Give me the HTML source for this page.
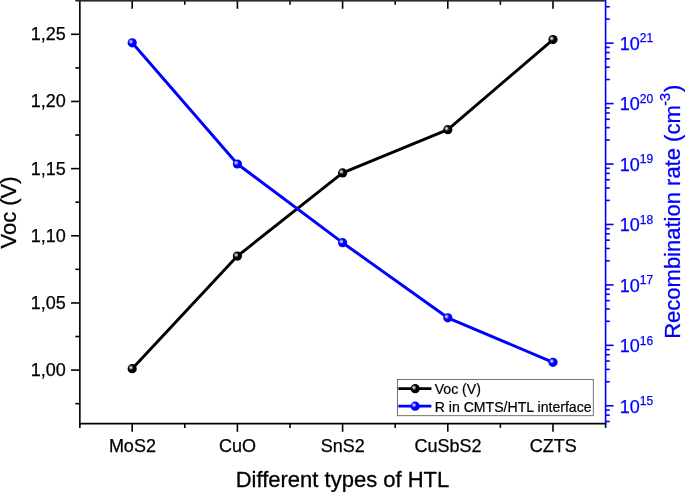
<!DOCTYPE html>
<html lang="en"><head><meta charset="utf-8"><title>Voc and recombination rate for different HTL</title>
<style>html,body{margin:0;padding:0;background:#fff}svg{display:block}</style></head>
<body>
<svg width="685" height="492" viewBox="0 0 685 492" font-family="'Liberation Sans', Arial, sans-serif">
<defs>
<radialGradient id="gk" cx="0.37" cy="0.38" r="0.62" fx="0.36" fy="0.37"><stop offset="0" stop-color="#f4f4f4"/><stop offset="0.2" stop-color="#9a9a9a"/><stop offset="0.45" stop-color="#000"/><stop offset="1" stop-color="#000"/></radialGradient>
<radialGradient id="gb" cx="0.37" cy="0.38" r="0.62" fx="0.36" fy="0.37"><stop offset="0" stop-color="#f0f0ff"/><stop offset="0.2" stop-color="#9090ff"/><stop offset="0.45" stop-color="#0000ff"/><stop offset="1" stop-color="#0000ff"/></radialGradient>
</defs>
<rect width="685" height="492" fill="#fff"/>
<g stroke="#000" stroke-width="1.6" fill="none" stroke-linecap="butt">
<line x1="79.85" y1="0" x2="79.85" y2="424.40000000000003"/>
<line x1="79.05" y1="423.6" x2="606.4" y2="423.6"/>
<line x1="132.2" y1="423.6" x2="132.2" y2="431.8"/>
<line x1="132.2" y1="0" x2="132.2" y2="8.8"/>
<line x1="237.4" y1="423.6" x2="237.4" y2="431.8"/>
<line x1="237.4" y1="0" x2="237.4" y2="8.8"/>
<line x1="342.6" y1="423.6" x2="342.6" y2="431.8"/>
<line x1="342.6" y1="0" x2="342.6" y2="8.8"/>
<line x1="447.8" y1="423.6" x2="447.8" y2="431.8"/>
<line x1="447.8" y1="0" x2="447.8" y2="8.8"/>
<line x1="553.0" y1="423.6" x2="553.0" y2="431.8"/>
<line x1="553.0" y1="0" x2="553.0" y2="8.8"/>
<line x1="79.85" y1="423.6" x2="79.85" y2="427.90000000000003"/>
<line x1="184.8" y1="423.6" x2="184.8" y2="427.90000000000003"/>
<line x1="184.8" y1="0" x2="184.8" y2="4.8"/>
<line x1="290.0" y1="423.6" x2="290.0" y2="427.90000000000003"/>
<line x1="290.0" y1="0" x2="290.0" y2="4.8"/>
<line x1="395.2" y1="423.6" x2="395.2" y2="427.90000000000003"/>
<line x1="395.2" y1="0" x2="395.2" y2="4.8"/>
<line x1="500.4" y1="423.6" x2="500.4" y2="427.90000000000003"/>
<line x1="500.4" y1="0" x2="500.4" y2="4.8"/>
<line x1="605.6" y1="423.6" x2="605.6" y2="427.90000000000003"/>
<line x1="71.05" y1="34.30" x2="79.85" y2="34.30"/>
<line x1="71.05" y1="101.46" x2="79.85" y2="101.46"/>
<line x1="71.05" y1="168.62" x2="79.85" y2="168.62"/>
<line x1="71.05" y1="235.78" x2="79.85" y2="235.78"/>
<line x1="71.05" y1="302.94" x2="79.85" y2="302.94"/>
<line x1="71.05" y1="370.10" x2="79.85" y2="370.10"/>
<line x1="75.35" y1="67.88" x2="79.85" y2="67.88"/>
<line x1="75.35" y1="135.04" x2="79.85" y2="135.04"/>
<line x1="75.35" y1="202.20" x2="79.85" y2="202.20"/>
<line x1="75.35" y1="269.36" x2="79.85" y2="269.36"/>
<line x1="75.35" y1="336.52" x2="79.85" y2="336.52"/>
<line x1="75.35" y1="403.68" x2="79.85" y2="403.68"/>
</g>
<rect x="75.35" y="0" width="529.45" height="1.6" fill="#2a2a2a"/>
<g stroke="#0000ff" stroke-width="1.6" fill="none">
<line x1="605.6" y1="0" x2="605.6" y2="423.6"/>
<line x1="605.6" y1="43.15" x2="613.6" y2="43.15"/>
<line x1="605.6" y1="103.59" x2="613.6" y2="103.59"/>
<line x1="605.6" y1="164.03" x2="613.6" y2="164.03"/>
<line x1="605.6" y1="224.47" x2="613.6" y2="224.47"/>
<line x1="605.6" y1="284.91" x2="613.6" y2="284.91"/>
<line x1="605.6" y1="345.35" x2="613.6" y2="345.35"/>
<line x1="605.6" y1="405.79" x2="613.6" y2="405.79"/>
<line x1="605.6" y1="19.10" x2="609.8000000000001" y2="19.10"/>
<line x1="605.6" y1="6.76" x2="609.8000000000001" y2="6.76"/>
<line x1="605.6" y1="79.54" x2="609.8000000000001" y2="79.54"/>
<line x1="605.6" y1="67.20" x2="609.8000000000001" y2="67.20"/>
<line x1="605.6" y1="58.84" x2="609.8000000000001" y2="58.84"/>
<line x1="605.6" y1="52.51" x2="609.8000000000001" y2="52.51"/>
<line x1="605.6" y1="47.42" x2="609.8000000000001" y2="47.42"/>
<line x1="605.6" y1="139.98" x2="609.8000000000001" y2="139.98"/>
<line x1="605.6" y1="127.64" x2="609.8000000000001" y2="127.64"/>
<line x1="605.6" y1="119.28" x2="609.8000000000001" y2="119.28"/>
<line x1="605.6" y1="112.95" x2="609.8000000000001" y2="112.95"/>
<line x1="605.6" y1="107.86" x2="609.8000000000001" y2="107.86"/>
<line x1="605.6" y1="200.42" x2="609.8000000000001" y2="200.42"/>
<line x1="605.6" y1="188.08" x2="609.8000000000001" y2="188.08"/>
<line x1="605.6" y1="179.72" x2="609.8000000000001" y2="179.72"/>
<line x1="605.6" y1="173.39" x2="609.8000000000001" y2="173.39"/>
<line x1="605.6" y1="168.30" x2="609.8000000000001" y2="168.30"/>
<line x1="605.6" y1="260.86" x2="609.8000000000001" y2="260.86"/>
<line x1="605.6" y1="248.52" x2="609.8000000000001" y2="248.52"/>
<line x1="605.6" y1="240.16" x2="609.8000000000001" y2="240.16"/>
<line x1="605.6" y1="233.83" x2="609.8000000000001" y2="233.83"/>
<line x1="605.6" y1="228.74" x2="609.8000000000001" y2="228.74"/>
<line x1="605.6" y1="321.30" x2="609.8000000000001" y2="321.30"/>
<line x1="605.6" y1="308.96" x2="609.8000000000001" y2="308.96"/>
<line x1="605.6" y1="300.60" x2="609.8000000000001" y2="300.60"/>
<line x1="605.6" y1="294.27" x2="609.8000000000001" y2="294.27"/>
<line x1="605.6" y1="289.18" x2="609.8000000000001" y2="289.18"/>
<line x1="605.6" y1="381.74" x2="609.8000000000001" y2="381.74"/>
<line x1="605.6" y1="369.40" x2="609.8000000000001" y2="369.40"/>
<line x1="605.6" y1="361.04" x2="609.8000000000001" y2="361.04"/>
<line x1="605.6" y1="354.71" x2="609.8000000000001" y2="354.71"/>
<line x1="605.6" y1="349.62" x2="609.8000000000001" y2="349.62"/>
<line x1="605.6" y1="421.48" x2="609.8000000000001" y2="421.48"/>
<line x1="605.6" y1="415.15" x2="609.8000000000001" y2="415.15"/>
<line x1="605.6" y1="410.06" x2="609.8000000000001" y2="410.06"/>
</g>
<polyline points="132.2,368.7 237.4,256.1 342.6,172.9 447.8,129.7 553.0,39.6" fill="none" stroke="#000" stroke-width="2.9" stroke-linejoin="round"/>
<circle cx="132.2" cy="368.7" r="4.6" fill="url(#gk)"/>
<circle cx="237.4" cy="256.1" r="4.6" fill="url(#gk)"/>
<circle cx="342.6" cy="172.9" r="4.6" fill="url(#gk)"/>
<circle cx="447.8" cy="129.7" r="4.6" fill="url(#gk)"/>
<circle cx="553.0" cy="39.6" r="4.6" fill="url(#gk)"/>
<polyline points="132.2,42.8 237.4,164.0 342.6,242.7 447.8,317.8 553.0,362.3" fill="none" stroke="#0000ff" stroke-width="2.9" stroke-linejoin="round"/>
<circle cx="132.2" cy="42.8" r="4.6" fill="url(#gb)"/>
<circle cx="237.4" cy="164.0" r="4.6" fill="url(#gb)"/>
<circle cx="342.6" cy="242.7" r="4.6" fill="url(#gb)"/>
<circle cx="447.8" cy="317.8" r="4.6" fill="url(#gb)"/>
<circle cx="553.0" cy="362.3" r="4.6" fill="url(#gb)"/>
<g font-size="18" fill="#000" stroke="#000" stroke-width="0.25">
<text x="65.9" y="40.20" text-anchor="end">1,25</text>
<text x="65.9" y="107.36" text-anchor="end">1,20</text>
<text x="65.9" y="174.52" text-anchor="end">1,15</text>
<text x="65.9" y="241.68" text-anchor="end">1,10</text>
<text x="65.9" y="308.84" text-anchor="end">1,05</text>
<text x="65.9" y="376.00" text-anchor="end">1,00</text>
<text x="132.39999999999998" y="452" text-anchor="middle">MoS2</text>
<text x="237.6" y="452" text-anchor="middle">CuO</text>
<text x="342.8" y="452" text-anchor="middle">SnS2</text>
<text x="448.0" y="452" text-anchor="middle">CuSbS2</text>
<text x="553.2" y="452" text-anchor="middle">CZTS</text>
</g>
<g font-size="18" fill="#0000ff" stroke="#0000ff" stroke-width="0.25">
<text x="619.7" y="49.95">10<tspan font-size="12" dy="-7.5">21</tspan></text>
<text x="619.7" y="110.39">10<tspan font-size="12" dy="-7.5">20</tspan></text>
<text x="619.7" y="170.83">10<tspan font-size="12" dy="-7.5">19</tspan></text>
<text x="619.7" y="231.27">10<tspan font-size="12" dy="-7.5">18</tspan></text>
<text x="619.7" y="291.71">10<tspan font-size="12" dy="-7.5">17</tspan></text>
<text x="619.7" y="352.15">10<tspan font-size="12" dy="-7.5">16</tspan></text>
<text x="619.7" y="412.59">10<tspan font-size="12" dy="-7.5">15</tspan></text>
</g>
<text x="342.5" y="486.5" font-size="22" text-anchor="middle" fill="#000" stroke="#000" stroke-width="0.3">Different types of HTL</text>
<text transform="translate(16.2,212.5) rotate(-90)" font-size="22" text-anchor="middle" fill="#000" stroke="#000" stroke-width="0.3">Voc (V)</text>
<text transform="translate(680.1,338.8) rotate(-90)" font-size="22" fill="#0000ff" stroke="#0000ff" stroke-width="0.3">Recombination rate (cm<tspan font-size="14.6" dy="-10.3" dx="-0.5">-3</tspan><tspan dy="10.3" dx="0.9">)</tspan></text>
<rect x="397.5" y="379.4" width="195.8" height="36.3" fill="#fff" stroke="#5a5a5a" stroke-width="0.85"/>
<line x1="398.3" y1="388.7" x2="431.4" y2="388.7" stroke="#000" stroke-width="2.7"/>
<circle cx="415.2" cy="388.7" r="4.6" fill="url(#gk)"/>
<line x1="398.3" y1="406.2" x2="431.4" y2="406.2" stroke="#0000ff" stroke-width="2.7"/>
<circle cx="415.2" cy="406.2" r="4.6" fill="url(#gb)"/>
<g font-size="14.1" fill="#000" stroke="#000" stroke-width="0.2"><text x="434.7" y="394.2">Voc (V)</text><text x="434.7" y="411.7">R in CMTS/HTL interface</text></g>
</svg>
</body></html>
